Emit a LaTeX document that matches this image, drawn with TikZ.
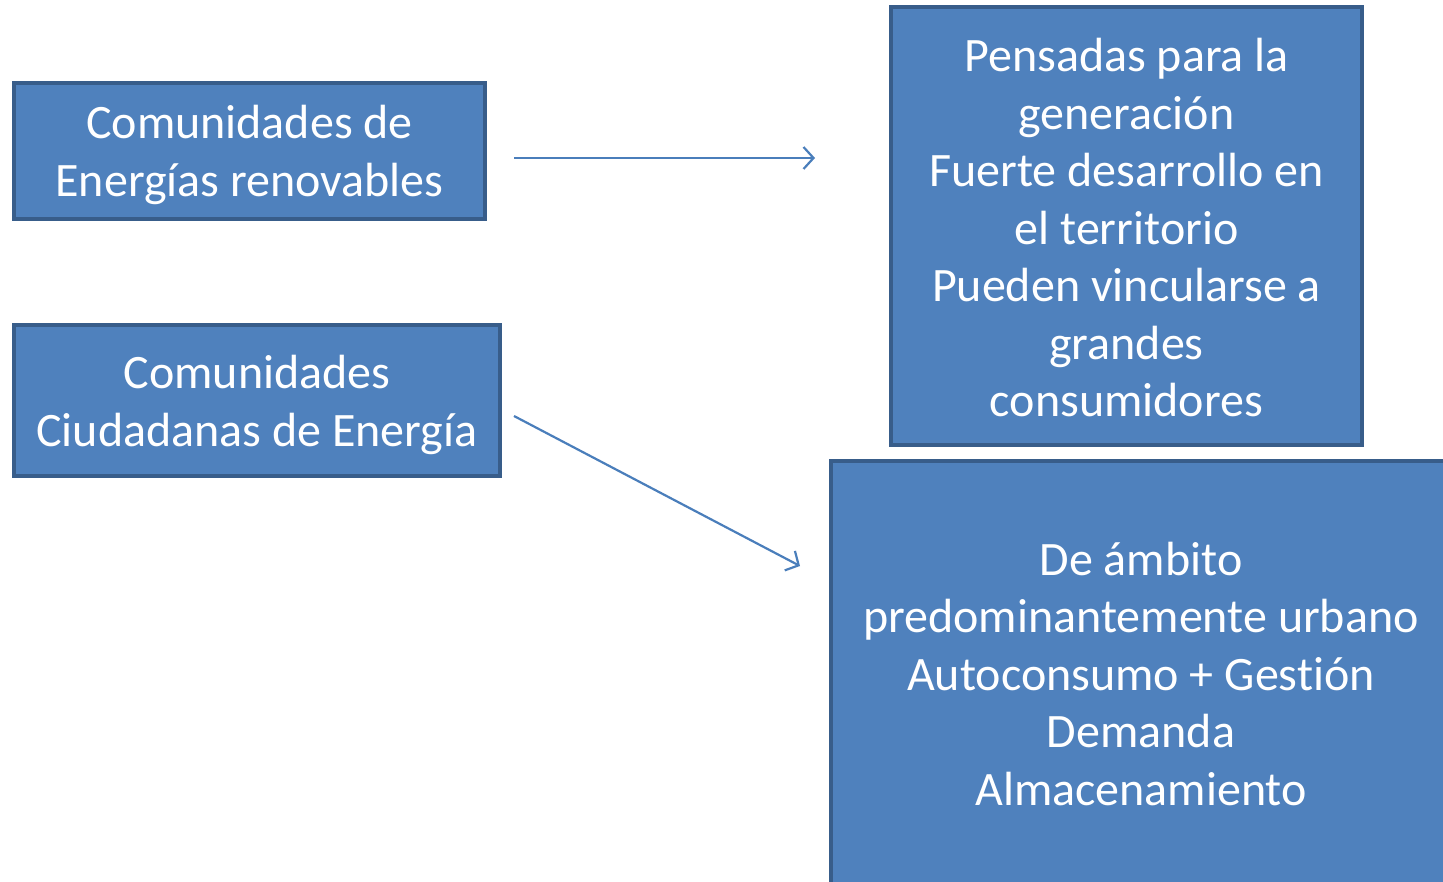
\documentclass[tikz,border=0pt]{standalone}
\usepackage{fontspec}
\setmainfont[RawFeature={-liga;-clig;-dlig}]{Carlito}
\usetikzlibrary{arrows.meta}
\definecolor{boxfill}{HTML}{4F81BD}
\definecolor{boxline}{HTML}{385D8A}
\definecolor{arrowcol}{HTML}{4A7EBB}
\tikzset{
  bluebox/.style={draw=boxline, line width=4pt, fill=boxfill, rectangle, inner sep=0pt},
  boxtext/.style={text=white, align=center, inner sep=0pt, font=\fontsize{48}{57.5}\selectfont},
  conn/.style={draw=arrowcol, line width=2.2pt, -{Straight Barb[length=10pt,width=22pt,line width=2.2pt]}}
}
\begin{document}
\begin{tikzpicture}[x=1pt,y=-1pt]
\useasboundingbox (0,0) rectangle (1443,882);
\clip (0,0) rectangle (1443,882);
\node[bluebox, minimum width=471pt, minimum height=136pt] (cer) at (249.5,151) {};
\node[boxtext] (certext) at (249.5,155) {Comunidades de\\Energías renovables};
\node[bluebox, minimum width=486pt, minimum height=151pt] (cce) at (257,400.5) {};
\node[boxtext] (ccetext) at (257,405) {Comunidades\\Ciudadanas de Energía};
\node[bluebox, minimum width=471pt, minimum height=438pt] (gen) at (1126.5,226) {};
\node[boxtext] (gentext) at (1126.5,228)
  {Pensadas para la\\generación\\Fuerte desarrollo en\\el territorio\\Pueden vincularse a\\grandes\\consumidores};
\node[bluebox, minimum width=620pt, minimum height=427pt] (urb) at (1141,674.5) {};
\node[boxtext] (urbtext) at (1141,674)
  {De ámbito\\predominantemente urbano\\Autoconsumo + Gest\kern0pt ión\\Demanda\\Almacenamiento};
\coordinate (a1s) at (514,158);
\coordinate (a1e) at (815,158);
\coordinate (a2s) at (514,416);
\coordinate (a2e) at (800,566);
\draw[conn] (a1s) -- (a1e);
\draw[conn] (a2s) -- (a2e);
\end{tikzpicture}
\end{document}
